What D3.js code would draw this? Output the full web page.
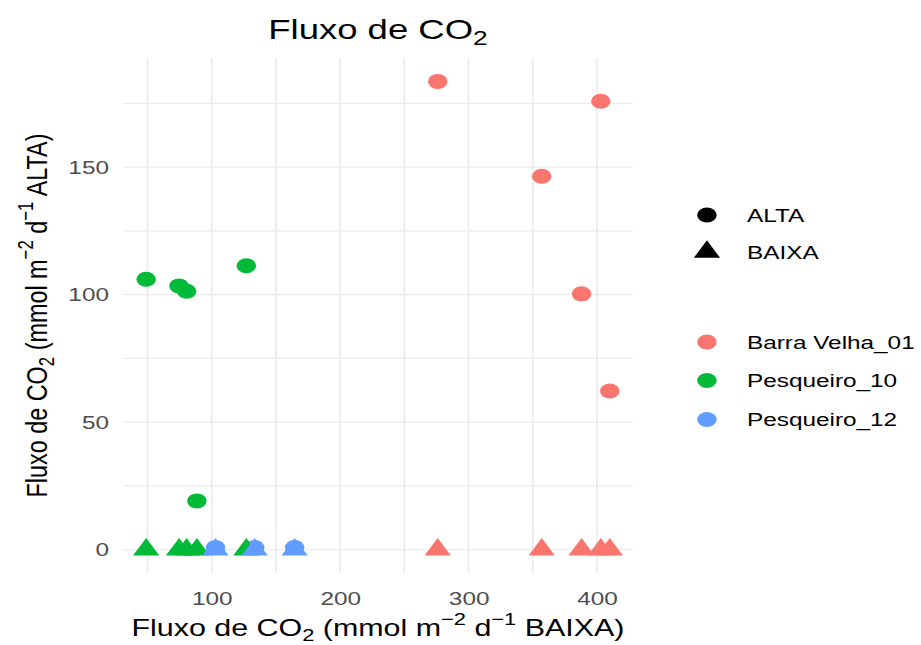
<!DOCTYPE html>
<html>
<head>
<meta charset="utf-8">
<script src="https://cdn.jsdelivr.net/npm/d3@7"></script>
<style>
  body { margin: 0; background: #fff; }
  svg { display: block; font-family: "Liberation Sans", Arial, sans-serif; }
</style>
</head>
<body>
<div id="chart"></div>
<script>
// data
const sites = ['Barra Velha_01', 'Pesqueiro_10', 'Pesqueiro_12'];
const siteColors = ['#F8766D', '#00BA38', '#619CFF'];

// x = flux BAIXA, one array per site
const baixaX = [
  [276, 357, 388, 403, 410],
  [49, 74.6, 80.5, 88.5, 127],
  [103, 133.5, 164.6]
];
// y of the circles (ALTA)
const altaY = [
  [183.6, 146.4, 100.3, 175.8, 62.2],
  [106.0, 103.4, 101.3, 19.1, 111.3],
  [0.8, 0.8, 0.8]
];
// y of the triangles (BAIXA)
const baixaY = [
  [0, 0, 0, 0, 0],
  [0, 0, 0, 0, 0],
  [0, 0, 0]
];

const shapeLevels = ['ALTA', 'BAIXA'];
const xTicks = [100, 200, 300, 400];
const xMinor = [50, 150, 250, 350];
const yTicks = [0, 50, 100, 150];
const yMinor = [25, 75, 125, 175];

// the picture is stretched sideways, draw in logical units then scale
const S = 1.3;
const width = 921, height = 645;
const panel = { left: 94.6, right: 486.9, top: 58, bottom: 573 };
const baseSize = 23.4;

// long table: ALTA rows first, then BAIXA rows (ggplot draw order)
let rows = [];
shapeLevels.forEach((lvl, li) => {
  sites.forEach((site, si) => {
    baixaX[si].forEach((xv, k) => {
      rows.push({ site: site, level: lvl, x: xv, y: li === 0 ? altaY[si][k] : baixaY[si][k] });
    });
  });
});

function expand(ext) {
  let d = (ext[1] - ext[0]) * 0.05;
  return [ext[0] - d, ext[1] + d];
}

let xScale = d3.scaleLinear()
  .domain(expand(d3.extent(rows, d => d.x)))
  .range([panel.left, panel.right]);
let yScale = d3.scaleLinear()
  .domain(expand(d3.extent(rows, d => d.y)))
  .range([panel.bottom, panel.top]);

let colorScale = d3.scaleOrdinal().domain(sites).range(siteColors);
let shapeScale = d3.scaleOrdinal().domain(shapeLevels).range([d3.symbolCircle, d3.symbolTriangle]);
let pointR = 7.5;
let symbolSize = Math.PI * pointR * pointR;

let svg = d3.select('#chart')
  .append('svg')
  .attr('width', width)
  .attr('height', height);

let g = svg.append('g').attr('transform', `scale(${S},1)`);

// grid
let grid = g.append('g').attr('stroke', '#EBEBEB').attr('stroke-width', 1.3);
xMinor.concat(xTicks).forEach(v => {
  grid.append('line')
    .attr('x1', xScale(v)).attr('x2', xScale(v))
    .attr('y1', panel.top).attr('y2', panel.bottom);
});
yMinor.concat(yTicks).forEach(v => {
  grid.append('line')
    .attr('x1', panel.left).attr('x2', panel.right)
    .attr('y1', yScale(v)).attr('y2', yScale(v));
});

// axes
let xAxis = g.append('g')
  .attr('transform', `translate(0,${panel.bottom})`)
  .call(d3.axisBottom(xScale).tickValues(xTicks).tickSize(0).tickPadding(19));
let yAxis = g.append('g')
  .attr('transform', `translate(${panel.left},0)`)
  .call(d3.axisLeft(yScale).tickValues(yTicks).tickSize(0).tickPadding(10.8));
[xAxis, yAxis].forEach(ax => {
  ax.select('.domain').remove();
  ax.selectAll('text')
    .attr('fill', '#4D4D4D')
    .style('font-size', (baseSize * 0.8) + 'px')
    .style('font-family', '"Liberation Sans", Arial, sans-serif');
});

// points
g.append('g')
  .selectAll('path')
  .data(rows)
  .join('path')
  .attr('transform', d => `translate(${xScale(d.x)},${yScale(d.y)})`)
  .attr('d', d => d3.symbol(shapeScale(d.level), symbolSize)())
  .attr('fill', d => colorScale(d.site));

// text with sub / superscripts, the shift back is put on the next part
function richText(sel, parts, size) {
  let pending = 0;
  parts.forEach(p => {
    let shift = p.sub ? 0.22 * size : p.sup ? -0.45 * size : 0;
    let t = sel.append('tspan').text(p.t);
    let dy = pending + shift;
    if (dy) t.attr('dy', dy);
    if (shift) t.style('font-size', (size * 0.72) + 'px');
    pending = -shift;
  });
}

let title = g.append('text')
  .attr('x', (panel.left + panel.right) / 2)
  .attr('y', 39)
  .attr('text-anchor', 'middle')
  .style('font-size', (baseSize * 1.2) + 'px');
richText(title, [{ t: 'Fluxo de CO' }, { t: '2', sub: true }], baseSize * 1.2);

let xTitle = g.append('text')
  .attr('x', (panel.left + panel.right) / 2)
  .attr('y', 636)
  .attr('text-anchor', 'middle')
  .style('font-size', baseSize + 'px');
richText(xTitle, [{ t: 'Fluxo de CO' }, { t: '2', sub: true }, { t: ' (mmol m' }, { t: '\u22122', sup: true },
  { t: ' d' }, { t: '\u22121', sup: true }, { t: ' BAIXA)' }], baseSize);

let yTitle = g.append('text')
  .attr('transform', `translate(36,${(panel.top + panel.bottom) / 2}) rotate(-90)`)
  .attr('text-anchor', 'middle')
  .style('font-size', baseSize + 'px');
richText(yTitle, [{ t: 'Fluxo de CO' }, { t: '2', sub: true }, { t: ' (mmol m' }, { t: '\u22122', sup: true },
  { t: ' d' }, { t: '\u22121', sup: true }, { t: ' ALTA)' }], baseSize);

// legends
let keyX = 543.8, labelX = 574.6;
let legend = g.append('g');
let shapeRowsY = [215, 252];
shapeLevels.forEach((lvl, i) => {
  legend.append('path')
    .attr('transform', `translate(${keyX},${shapeRowsY[i]})`)
    .attr('d', d3.symbol(shapeScale(lvl), symbolSize)())
    .attr('fill', '#000');
  legend.append('text')
    .attr('x', labelX).attr('y', shapeRowsY[i]).attr('dy', '0.36em')
    .style('font-size', (baseSize * 0.8) + 'px')
    .text(lvl);
});
let colorRowsY = [342, 380.5, 419.5];
sites.forEach((site, i) => {
  legend.append('path')
    .attr('transform', `translate(${keyX},${colorRowsY[i]})`)
    .attr('d', d3.symbol(d3.symbolCircle, symbolSize)())
    .attr('fill', colorScale(site));
  legend.append('text')
    .attr('x', labelX).attr('y', colorRowsY[i]).attr('dy', '0.36em')
    .style('font-size', (baseSize * 0.8) + 'px')
    .text(site);
});
</script>
</body>
</html>
